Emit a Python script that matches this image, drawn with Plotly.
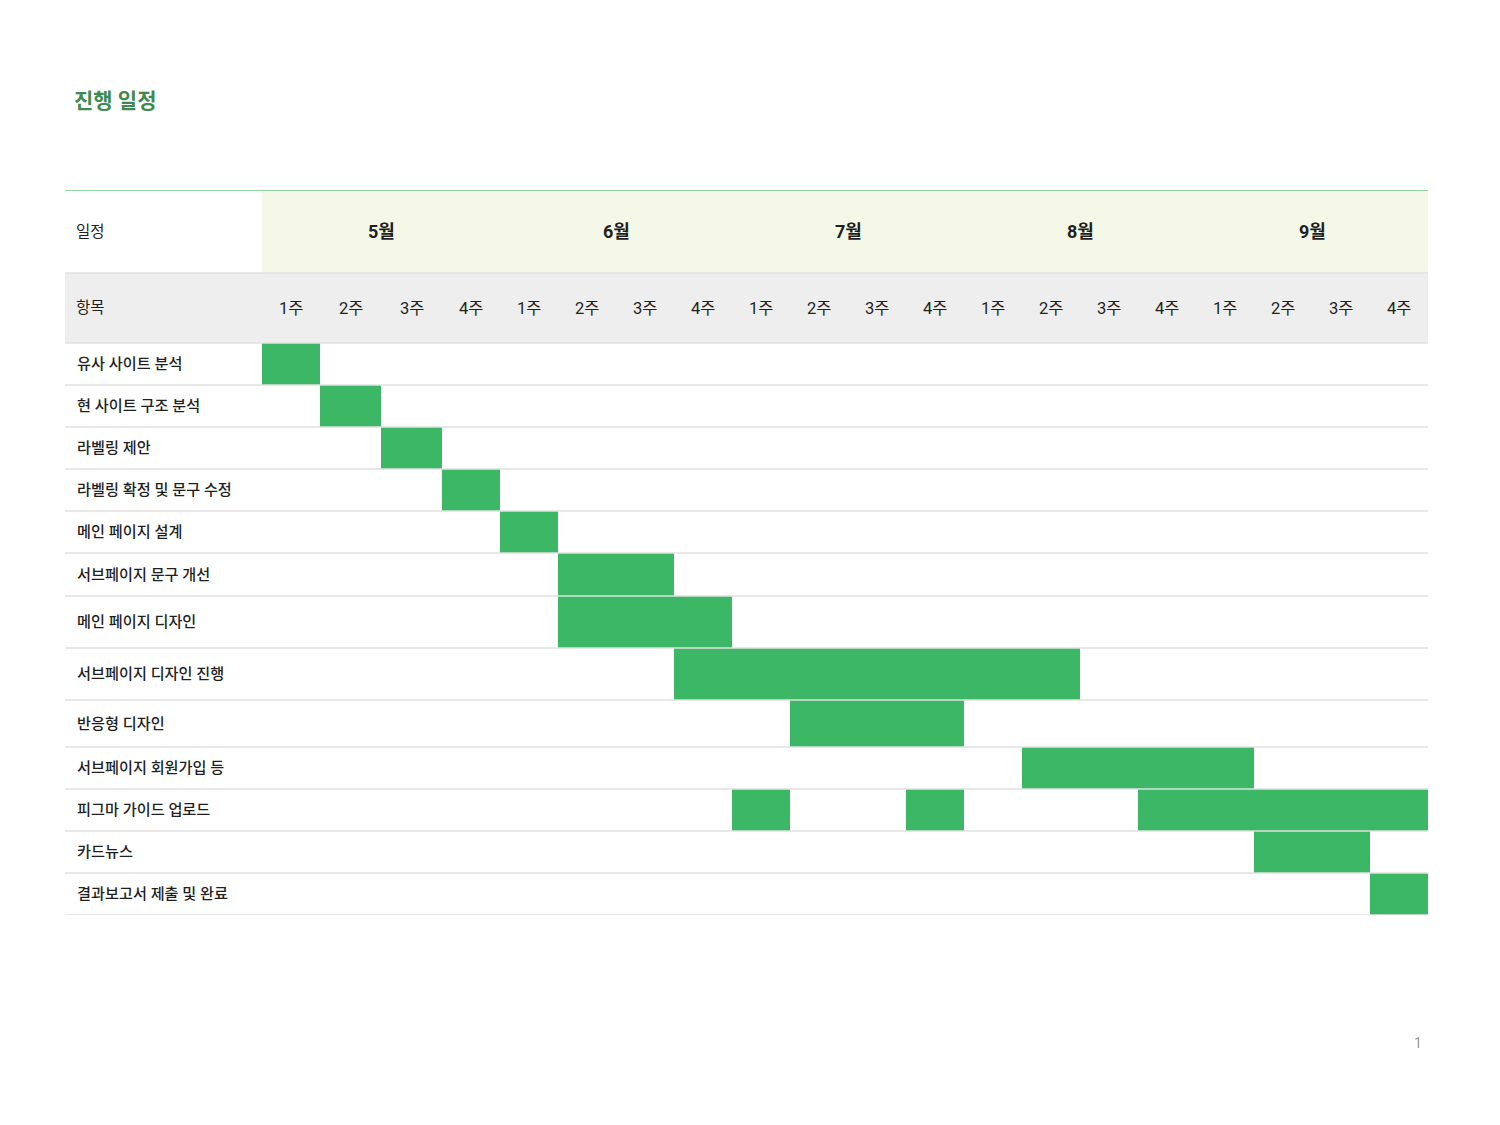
import plotly.graph_objects as go

# ---------------- data ----------------
TITLE = "진행 일정"
MONTHS = ["5월", "6월", "7월", "8월", "9월"]
WEEK_LABELS = ["1주", "2주", "3주", "4주"]
HEADER_DATE = "일정"
HEADER_ITEM = "항목"

TASKS = [
    "유사 사이트 분석",
    "현 사이트 구조 분석",
    "라벨링 제안",
    "라벨링 확정 및 문구 수정",
    "메인 페이지 설계",
    "서브페이지 문구 개선",
    "메인 페이지 디자인",
    "서브페이지 디자인 진행",
    "반응형 디자인",
    "서브페이지 회원가입 등",
    "피그마 가이드 업로드",
    "카드뉴스",
    "결과보고서 제출 및 완료",
]
# (task index, start week index, end week index exclusive); week 0 = 5월 1주
SEG_TASK = [0, 1, 2, 3, 4, 5, 6, 7, 8, 9, 10, 10, 10, 11, 12]
SEG_START = [0, 1, 2, 3, 4, 5, 5, 7, 9, 13, 8, 11, 15, 17, 19]
SEG_END = [1, 2, 3, 4, 5, 7, 8, 14, 12, 17, 9, 12, 20, 19, 20]
PAGE_NUMBER = "1"

# ---------------- layout / style ----------------
W, H = 1500, 1125
OFF = 8                                    # page body margin
COL_W = [58, 61, 61] + [58] * 17          # week column widths
HEAD_H = [83, 70]                          # month row, week row
ROW_H = [42, 42, 42, 42, 42, 43, 52, 52, 47, 42, 42, 42, 42]
TABLE_LEFT, GRID_LEFT, TABLE_RIGHT, TABLE_TOP = 65, 262, 1428, 190
LABEL_X = 75

BAR = "#3cb765"
LINE = "#e0e0e0"
FONT = "Roboto, 'Noto Sans CJK KR', sans-serif"
TXT = "#1f1f1f"

edges = [0]
for w in COL_W:
    edges.append(edges[-1] + w)
total_w = edges[-1]
ybounds = [0]
for h in HEAD_H + ROW_H:
    ybounds.append(ybounds[-1] + h)
total_h = ybounds[-1]
row_center = [(ybounds[2 + i] + ybounds[3 + i]) / 2 for i in range(len(ROW_H))]

px = lambda x: (x - OFF) / W
py = lambda y: 1 - (y - OFF) / H

fig = go.Figure()
fig.add_trace(go.Bar(
    orientation="h",
    y=[row_center[t] for t in SEG_TASK],
    base=[edges[s] for s in SEG_START],
    x=[edges[e] - edges[s] for s, e in zip(SEG_START, SEG_END)],
    width=[ROW_H[t] for t in SEG_TASK],
    marker=dict(color=BAR, line=dict(width=0)),
    hoverinfo="skip",
    showlegend=False,
))

shapes = []
# header backgrounds
shapes.append(dict(type="rect", xref="x", yref="y", x0=0, x1=total_w,
                   y0=ybounds[0], y1=ybounds[1], fillcolor="#f5f8e7",
                   line=dict(width=0), layer="below"))
shapes.append(dict(type="rect", xref="paper", yref="y", x0=px(TABLE_LEFT),
                   x1=px(TABLE_RIGHT), y0=ybounds[1], y1=ybounds[2],
                   fillcolor="#eeeeee", line=dict(width=0), layer="below"))
# horizontal separators
for yb in ybounds[1:]:
    shapes.append(dict(type="line", xref="paper", yref="y", x0=px(TABLE_LEFT),
                       x1=px(TABLE_RIGHT), y0=yb, y1=yb,
                       line=dict(color=LINE, width=1.5), layer="above"))
# top green rule
shapes.append(dict(type="line", xref="paper", yref="y", x0=px(TABLE_LEFT),
                   x1=px(TABLE_RIGHT), y0=0, y1=0,
                   line=dict(color="#72c886", width=1.5), layer="above"))

ann = []
ann.append(dict(text=f"<b>{TITLE}</b>", xref="paper", yref="paper", x=px(72),
                y=py(101), xanchor="left", yanchor="middle", showarrow=False,
                font=dict(family=FONT, size=21, color="#3d8b50")))
ann.append(dict(text=HEADER_DATE, xref="paper", yref="y", x=px(LABEL_X - 1),
                y=(ybounds[0] + ybounds[1]) / 2, xanchor="left", yanchor="middle",
                showarrow=False, font=dict(family=FONT, size=15.5, color=TXT)))
ann.append(dict(text=HEADER_ITEM, xref="paper", yref="y", x=px(LABEL_X - 1),
                y=(ybounds[1] + ybounds[2]) / 2, xanchor="left", yanchor="middle",
                showarrow=False, font=dict(family=FONT, size=15.5, color=TXT)))
for m, month in enumerate(MONTHS):
    c = (edges[4 * m] + edges[4 * m + 4]) / 2
    ann.append(dict(text=f"<b>{month}</b>", xref="x", yref="y", x=c,
                    y=(ybounds[0] + ybounds[1]) / 2, xanchor="center",
                    yanchor="middle", showarrow=False,
                    font=dict(family=FONT, size=18, color=TXT)))
    for k, wl in enumerate(WEEK_LABELS):
        i = 4 * m + k
        ann.append(dict(text=wl, xref="x", yref="y", x=(edges[i] + edges[i + 1]) / 2,
                        y=(ybounds[1] + ybounds[2]) / 2, xanchor="center",
                        yanchor="middle", showarrow=False,
                        font=dict(family=FONT, size=16.5, color=TXT)))
for t, name in enumerate(TASKS):
    ann.append(dict(text=name, xref="paper", yref="y", x=px(LABEL_X),
                    y=row_center[t], xanchor="left", yanchor="middle",
                    showarrow=False,
                    font=dict(family=FONT, size=15.2, color=TXT, weight=500)))
ann.append(dict(text=PAGE_NUMBER, xref="paper", yref="paper", x=px(1424),
                y=py(1043), xanchor="right", yanchor="middle", showarrow=False,
                font=dict(family=FONT, size=14, color="#999999")))

fig.update_layout(
    width=W, height=H, autosize=False,
    margin=dict(l=0, r=0, t=0, b=0),
    paper_bgcolor="white", plot_bgcolor="white",
    bargap=0,
    xaxis=dict(domain=[px(GRID_LEFT), px(TABLE_RIGHT)], range=[0, total_w],
               visible=False, fixedrange=True),
    yaxis=dict(domain=[py(TABLE_TOP + total_h), py(TABLE_TOP)],
               range=[total_h, 0], visible=False, fixedrange=True),
    shapes=shapes, annotations=ann,
)
fig.write_html("out.html")
